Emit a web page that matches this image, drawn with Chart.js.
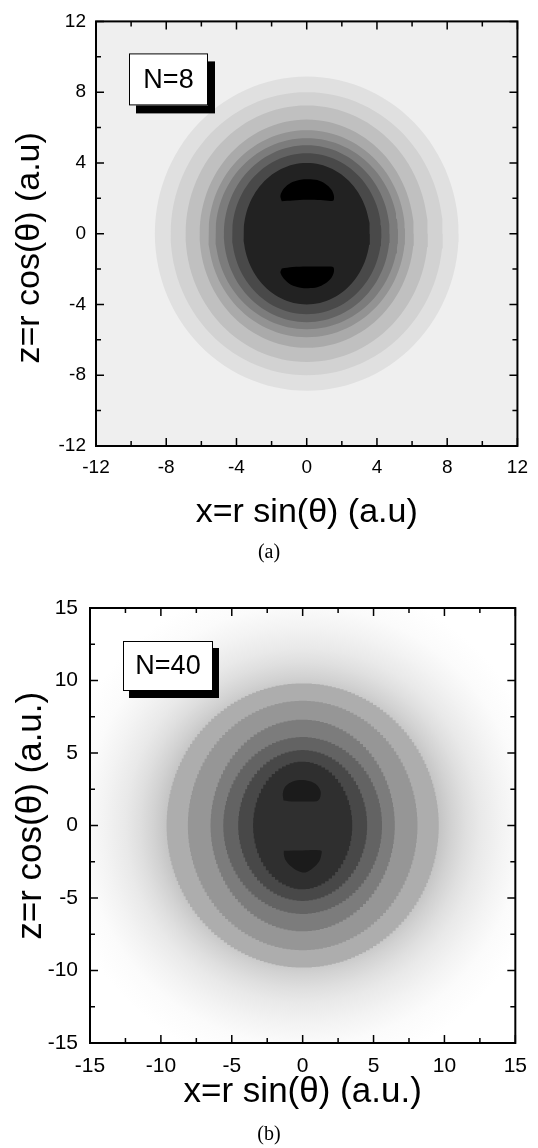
<!DOCTYPE html>
<html>
<head>
<meta charset="utf-8">
<script src="https://cdn.jsdelivr.net/npm/chart.js@4.4.0/dist/chart.umd.min.js"></script>
<style>
  body { margin: 0; background: #fff; width: 538px; height: 1148px; overflow: hidden; }
  canvas { position: absolute; left: 0; }
  #Graf1 { top: 0; }
  #Graf2 { top: 574px; }
</style>
</head>
<body>
<canvas id="Graf1" width="538" height="574"></canvas>
<canvas id="Graf2" width="538" height="574"></canvas>
<script>
// ---- panel (a), N=8 : contour levels, outer -> inner (half width along x, half height along z)
const levelsA_hx = [8.65, 7.75, 6.9, 6.1, 5.6, 5.2, 4.72, 4.25, 3.6];
const levelsA_hz = [8.88, 8.0, 7.25, 6.45, 5.85, 5.4, 5.0, 4.55, 4.0];
const shadesA = ['#e0e0e0', '#d2d2d2', '#c0c0c0', '#aaaaaa', '#939393', '#7c7c7c', '#626262', '#494949', '#222222'];
// the two black lobes
const lobeA_up_x = [-1.42, -1.5, -1.3, -0.9, -0.35, 0.1, 0.6, 1.05, 1.4, 1.55, 1.5, 0.8, 0, -0.8];
const lobeA_up_z = [1.84, 2.15, 2.55, 2.88, 3.05, 3.08, 3.03, 2.82, 2.5, 2.15, 1.86, 1.9, 1.92, 1.88];
const lobeA_dn_x = [-1.42, -0.8, 0, 0.8, 1.5, 1.55, 1.4, 1.05, 0.6, 0.1, -0.35, -0.9, -1.3, -1.5];
const lobeA_dn_z = [-1.96, -1.88, -1.85, -1.86, -1.88, -2.15, -2.5, -2.82, -3.03, -3.08, -3.05, -2.88, -2.55, -2.2];
const bgA = '#efefef';
const ticksA = [-12, -8, -4, 0, 4, 8, 12];

// ---- panel (b), N=40
const levelsB_hx = [9.6, 8.1, 6.5, 5.6, 4.55, 3.5];
const levelsB_hz = [9.8, 8.6, 7.3, 6.1, 5.2, 4.4];
const shadesB = ['#adadad', '#969696', '#7c7c7c', '#636363', '#484848', '#2f2f2f'];
const lobeB_up_x = [-1.35, -1.4, -1.25, -0.85, -0.2, 0.5, 1.0, 1.27, 1.22, 1.0, 0, -1.0];
const lobeB_up_z = [1.72, 2.2, 2.65, 2.97, 3.13, 3.05, 2.8, 2.35, 1.9, 1.68, 1.66, 1.68];
const lobeB_dn_x = [-1.33, 0, 1.31, 1.3, 1.15, 0.75, 0.2, -0.4, -0.9, -1.2, -1.32];
const lobeB_dn_z = [-1.74, -1.72, -1.74, -2.1, -2.5, -2.92, -3.24, -3.1, -2.75, -2.4, -2.05];
// smooth outer halo of panel (b): radius (a.u.) and grey level
const haloB_r = [9.6, 10.5, 11.5, 12.5, 14, 15.5, 17.5];
const haloB_grey = ['#c4c4c4', '#d2d2d2', '#dfdfdf', '#e9e9e9', '#f3f3f3', '#fbfbfb', '#ffffff'];
const ticksB = [-15, -10, -5, 0, 5, 10, 15];

const FONT = "'Liberation Sans', Arial, sans-serif";

function ellipse(hx, hz, n) {
    let pts = [];
    for (let k = 0; k <= n; k++) {
        let t = k / n * 2 * Math.PI;
        pts.push({x: hx * Math.cos(t), y: hz * Math.sin(t)});
    }
    return pts;
}

function polygon(xs, zs) {
    let pts = xs.map((x, i) => ({x: x, y: zs[i]}));
    pts.push(pts[0]);
    return pts;
}

function shape(data, color, tension, stepped) {
    return {
        data: data,
        showLine: true,
        fill: 'shape',
        backgroundColor: color,
        borderColor: color,
        borderWidth: 0,
        pointRadius: 0,
        tension: tension || 0,
        stepped: stepped || false,
    };
}

// pixelated = the coarse grid look of panel (b)
function buildDatasets(hx, hz, shades, lobes, lobeColor, pixelated) {
    let sets = [];
    hx.forEach((a, i) => sets.push(pixelated
        ? shape(ellipse(a, hz[i], Math.round(a * 22)), shades[i], 0, 'middle')
        : shape(ellipse(a, hz[i], 120), shades[i])));
    lobes.forEach(l => sets.push(shape(polygon(l[0], l[1]), lobeColor, 0.3)));
    // first dataset is drawn on top in Chart.js, so inner shapes go first
    return sets.reverse();
}

const framePlugin = {
    id: 'frame',
    beforeDatasetsDraw(chart, args, opts) {
        const {ctx, chartArea: a, scales} = chart;
        ctx.save();
        if (opts.halo) {
            let cx = scales.x.getPixelForValue(0);
            let cy = scales.y.getPixelForValue(0);
            let rMax = opts.halo.r[opts.halo.r.length - 1];
            let rpx = scales.x.getPixelForValue(rMax) - cx;
            let g = ctx.createRadialGradient(cx, cy, 0, cx, cy, rpx);
            g.addColorStop(0, opts.halo.grey[0]);
            opts.halo.r.forEach((r, i) => g.addColorStop(r / rMax, opts.halo.grey[i]));
            ctx.fillStyle = g;
        } else {
            ctx.fillStyle = opts.bg;
        }
        ctx.fillRect(a.left, a.top, a.right - a.left, a.bottom - a.top);
        ctx.restore();
    },
    afterDatasetsDraw(chart, args, opts) {
        const {ctx, chartArea: a, scales} = chart;
        ctx.save();
        ctx.strokeStyle = '#000';
        // inward ticks on all four sides
        let vals = scales.x.ticks.map(t => t.value);
        let step = vals[1] - vals[0];
        ctx.lineWidth = 1.5;
        ctx.beginPath();
        vals.forEach((v, i) => {
            [[v, 8], [v + step / 2, 5]].forEach(([val, len]) => {
                if (val > vals[vals.length - 1]) return;
                let px = scales.x.getPixelForValue(val);
                ctx.moveTo(px, a.bottom); ctx.lineTo(px, a.bottom - len);
                ctx.moveTo(px, a.top); ctx.lineTo(px, a.top + len);
                let py = scales.y.getPixelForValue(val);
                ctx.moveTo(a.left, py); ctx.lineTo(a.left + len, py);
                ctx.moveTo(a.right, py); ctx.lineTo(a.right - len, py);
            });
        });
        ctx.stroke();
        ctx.lineWidth = 2;
        ctx.strokeRect(a.left, a.top, a.right - a.left, a.bottom - a.top);
        // label box with drop shadow
        let b = opts.box;
        let bx = a.left + b.dx, by = a.top + b.dy;
        ctx.fillStyle = '#000';
        ctx.fillRect(bx + b.sx, by + b.sy, b.w, b.h);
        ctx.fillStyle = '#fff';
        ctx.fillRect(bx, by, b.w, b.h);
        ctx.lineWidth = 1;
        ctx.strokeRect(bx + 0.5, by + 0.5, b.w - 1, b.h - 1);
        ctx.fillStyle = '#000';
        ctx.font = b.size + 'px ' + FONT;
        ctx.textAlign = 'center';
        ctx.textBaseline = 'middle';
        ctx.fillText(b.text, bx + b.w / 2, by + b.h / 2 + 1);
        ctx.restore();
    },
    afterDraw(chart, args, opts) {
        const ctx = chart.ctx;
        ctx.save();
        ctx.fillStyle = '#000';
        ctx.font = "20px 'Liberation Serif', 'DejaVu Serif', serif";
        ctx.textAlign = 'center';
        ctx.textBaseline = 'middle';
        ctx.fillText(opts.caption.text, chart.width / 2, opts.caption.y);
        ctx.restore();
    }
};

function makeChart(canvasId, p) {
    return new Chart(document.getElementById(canvasId).getContext('2d'), {
        type: 'scatter',
        data: {datasets: p.datasets},
        options: {
            responsive: false,
            animation: false,
            events: [],
            layout: {padding: {left: 0, right: p.padRight, top: p.padTop, bottom: 0}},
            plugins: {
                legend: {display: false},
                tooltip: {enabled: false},
                frame: p.frame,
            },
            scales: {
                x: {
                    type: 'linear',
                    min: p.ticks[0],
                    max: p.ticks[p.ticks.length - 1],
                    afterBuildTicks: s => { s.ticks = p.ticks.map(v => ({value: v})); },
                    grid: {display: false, drawTicks: false},
                    border: {display: false},
                    ticks: {color: '#000', padding: p.xPad, font: {family: FONT, size: p.tickSize}},
                    title: {display: true, text: p.xTitle, color: '#000',
                            font: {family: FONT, size: p.titleSize}, padding: {top: 0, bottom: p.xTitlePad}},
                    afterFit: s => { s.height = p.xHeight; },
                },
                y: {
                    type: 'linear',
                    min: p.ticks[0],
                    max: p.ticks[p.ticks.length - 1],
                    afterBuildTicks: s => { s.ticks = p.ticks.map(v => ({value: v})); },
                    grid: {display: false, drawTicks: false},
                    border: {display: false},
                    ticks: {color: '#000', padding: p.yPad, font: {family: FONT, size: p.tickSize}},
                    title: {display: true, text: p.yTitle, color: '#000',
                            font: {family: FONT, size: p.titleSize}, padding: {top: p.yTitlePad, bottom: 0}},
                    afterFit: s => { s.width = p.yWidth; },
                },
            },
        },
        plugins: [framePlugin],
    });
}

let chartOne = makeChart('Graf1', {
    datasets: buildDatasets(levelsA_hx, levelsA_hz, shadesA,
        [[lobeA_up_x, lobeA_up_z], [lobeA_dn_x, lobeA_dn_z]], '#000000', false),
    ticks: ticksA,
    tickSize: 19, titleSize: 34,
    xPad: 10, yPad: 10,
    xTitle: 'x=r sin(θ) (a.u)',
    yTitle: 'z=r cos(θ) (a.u)   ',
    xTitlePad: 41, yTitlePad: 9,
    xHeight: 128, yWidth: 96,
    padTop: 16, padRight: 13,
    frame: {
        bg: bgA,
        box: {text: 'N=8', dx: 33, dy: 32, w: 79, h: 52, sx: 7, sy: 8, size: 27},
        caption: {text: '(a)', y: 553},
    },
});

let chartTwo = makeChart('Graf2', {
    datasets: buildDatasets(levelsB_hx, levelsB_hz, shadesB,
        [[lobeB_up_x, lobeB_up_z], [lobeB_dn_x, lobeB_dn_z]], '#1b1b1b', true),
    ticks: ticksB,
    tickSize: 21, titleSize: 35,
    xPad: 11, yPad: 12,
    xTitle: 'x=r sin(θ) (a.u.)',
    yTitle: '  z=r cos(θ) (a.u.)',
    xTitlePad: 35, yTitlePad: 10,
    xHeight: 105, yWidth: 90,
    padTop: 34, padRight: 14,
    frame: {
        halo: {r: haloB_r, grey: haloB_grey},
        box: {text: 'N=40', dx: 33, dy: 33, w: 90, h: 50, sx: 6, sy: 7, size: 27},
        caption: {text: '(b)', y: 561},
    },
});
</script>
</body>
</html>
